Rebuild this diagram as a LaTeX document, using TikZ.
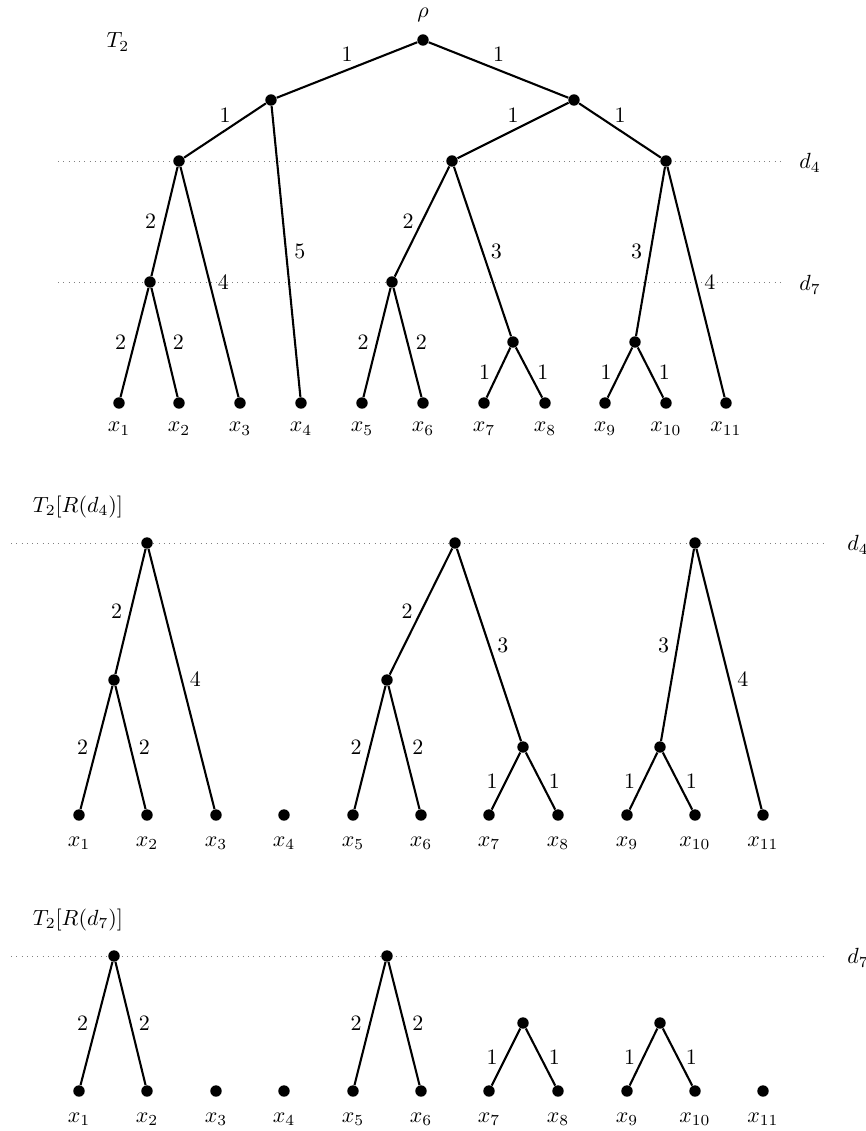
\documentclass[tikz,border=0pt]{standalone}
\usepackage{amsmath,amssymb}
\usepackage{xcolor}
\usepackage{tikz}
\usetikzlibrary{positioning}
\tikzset{
vertex/.style={
circle,
fill=black,
inner sep=0pt,
minimum size=5.2pt
},
branch/.style={
line width=0.95pt
},
cutline/.style={
dotted,
gray
}
}

\begin{document}
\begin{tikzpicture}[x=0.016cm,y=-0.016cm]
\useasboundingbox (0,0) rectangle (866,1131);

% T_2
\node (title1) at (118,42) {$T_2$};

\coordinate (c4a) at (58,161);
\coordinate (c4b) at (783,161);
\coordinate (c7a) at (58,282);
\coordinate (c7b) at (783,282);
\draw[cutline] (c4a) -- (c4b);
\draw[cutline] (c7a) -- (c7b);
\node (d4a) at (810,163) {$d_4$};
\node (d7a) at (810,285) {$d_7$};

\node[vertex,label={[label distance=2pt]above:$\rho$}] (r) at (423,40) {};
\node[vertex] (u) at (271,100) {};
\node[vertex] (v) at (574,100) {};
\node[vertex] (a) at (179,161) {};
\node[vertex] (b) at (452,161) {};
\node[vertex] (c) at (666,161) {};
\node[vertex] (p) at (150,282) {};
\node[vertex] (q) at (392,282) {};
\node[vertex] (s) at (513,342) {};
\node[vertex] (t) at (635,342) {};

\foreach \i/\x in {1/119,2/179,3/240,4/301,5/362,6/423,7/484,8/545,9/605,10/666,11/726}
\node[vertex,label={[label distance=2.5pt]below:$x_{\i}$}] (x\i) at (\x,403) {};

\draw[branch] (r) -- node[midway,above]{1} (u);
\draw[branch] (r) -- node[midway,above]{1} (v);
\draw[branch] (u) -- node[midway,above]{1} (a);
\draw[branch] (u) -- node[midway,right]{5} (x4);
\draw[branch] (v) -- node[midway,above]{1} (b);
\draw[branch] (v) -- node[midway,above]{1} (c);
\draw[branch] (a) -- node[midway,left]{2} (p);
\draw[branch] (a) -- node[midway,right]{4} (x3);
\draw[branch] (b) -- node[midway,left]{2} (q);
\draw[branch] (b) -- node[midway,right]{3} (s);
\draw[branch] (c) -- node[midway,left]{3} (t);
\draw[branch] (c) -- node[midway,right]{4} (x11);
\draw[branch] (p) -- node[midway,left]{2} (x1);
\draw[branch] (p) -- node[midway,right]{2} (x2);
\draw[branch] (q) -- node[midway,left]{2} (x5);
\draw[branch] (q) -- node[midway,right]{2} (x6);
\draw[branch] (s) -- node[midway,left]{1} (x7);
\draw[branch] (s) -- node[midway,right]{1} (x8);
\draw[branch] (t) -- node[midway,left]{1} (x9);
\draw[branch] (t) -- node[midway,right]{1} (x10);

% T_2[R(d_4)]
\node (title2) at (78,507) {$T_2[R(d_4)]$};

\coordinate (e4a) at (11,543);
\coordinate (e4b) at (827,543);
\draw[cutline] (e4a) -- (e4b);
\node (d4b) at (858,545) {$d_4$};

\node[vertex] (a2) at (147,543) {};
\node[vertex] (b2) at (455,543) {};
\node[vertex] (c2) at (695,543) {};
\node[vertex] (p2) at (114,680) {};
\node[vertex] (q2) at (387,680) {};
\node[vertex] (s2) at (523,747) {};
\node[vertex] (t2) at (660,747) {};

\foreach \i/\x in {1/79,2/147,3/216,4/284,5/353,6/421,7/489,8/558,9/627,10/695,11/763}
\node[vertex,label={[label distance=3.5pt]below:$x_{\i}$}] (y\i) at (\x,815) {};

\draw[branch] (a2) -- node[midway,left]{2} (p2);
\draw[branch] (a2) -- node[midway,right]{4} (y3);
\draw[branch] (b2) -- node[midway,left]{2} (q2);
\draw[branch] (b2) -- node[midway,right]{3} (s2);
\draw[branch] (c2) -- node[midway,left]{3} (t2);
\draw[branch] (c2) -- node[midway,right]{4} (y11);
\draw[branch] (p2) -- node[midway,left]{2} (y1);
\draw[branch] (p2) -- node[midway,right]{2} (y2);
\draw[branch] (q2) -- node[midway,left]{2} (y5);
\draw[branch] (q2) -- node[midway,right]{2} (y6);
\draw[branch] (s2) -- node[midway,left]{1} (y7);
\draw[branch] (s2) -- node[midway,right]{1} (y8);
\draw[branch] (t2) -- node[midway,left]{1} (y9);
\draw[branch] (t2) -- node[midway,right]{1} (y10);

% T_2[R(d_7)]
\node (title3) at (78,920) {$T_2[R(d_7)]$};

\coordinate (e7a) at (11,956);
\coordinate (e7b) at (827,956);
\draw[cutline] (e7a) -- (e7b);
\node (d7b) at (858,958) {$d_7$};

\node[vertex] (p3) at (114,956) {};
\node[vertex] (q3) at (387,956) {};
\node[vertex] (s3) at (523,1023) {};
\node[vertex] (t3) at (660,1023) {};

\foreach \i/\x in {1/79,2/147,3/216,4/284,5/353,6/421,7/489,8/558,9/627,10/695,11/763}
\node[vertex,label={[label distance=3.5pt]below:$x_{\i}$}] (z\i) at (\x,1091) {};

\draw[branch] (p3) -- node[midway,left]{2} (z1);
\draw[branch] (p3) -- node[midway,right]{2} (z2);
\draw[branch] (q3) -- node[midway,left]{2} (z5);
\draw[branch] (q3) -- node[midway,right]{2} (z6);
\draw[branch] (s3) -- node[midway,left]{1} (z7);
\draw[branch] (s3) -- node[midway,right]{1} (z8);
\draw[branch] (t3) -- node[midway,left]{1} (z9);
\draw[branch] (t3) -- node[midway,right]{1} (z10);

\end{tikzpicture}
\end{document}
